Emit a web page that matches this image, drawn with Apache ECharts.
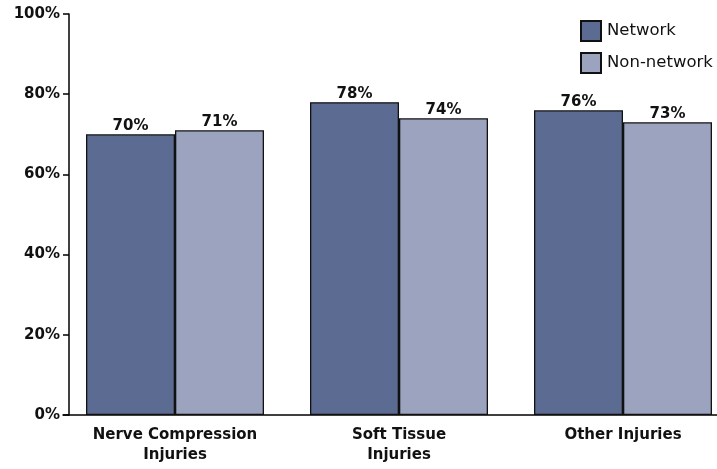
<!DOCTYPE html>
<html>
<head>
<meta charset="utf-8">
<script src="https://cdn.jsdelivr.net/npm/echarts@6/dist/echarts.min.js"></script>
<style>
  html, body { margin: 0; padding: 0; background: #fff; }
  #chart { width: 717px; height: 469px; }
</style>
</head>
<body>
<div id="chart"></div>
<script>
// categories (two-line labels)
var categories = ['Nerve Compression\nInjuries', 'Soft Tissue\nInjuries', 'Other Injuries'];
// percentages per group
var network = [70, 78, 76];
var nonNetwork = [71, 74, 73];
var yTicks = [0, 20, 40, 60, 80, 100];

var font = '"DejaVu Sans", Verdana, sans-serif';
var chart = echarts.init(document.getElementById('chart'));

var barLabel = {
  show: true, position: 'top', distance: 1, formatter: '{c}%',
  fontFamily: font, fontWeight: 'bold', fontSize: 15, color: '#111'
};

chart.setOption({
  animation: false,
  grid: {
    left: 63, right: -18, top: 14, bottom: 54,
    containLabel: false, outerBoundsMode: 'none'
  },
  legend: {
    orient: 'vertical',
    left: 580,
    top: 20,
    padding: 0,
    itemWidth: 20,
    itemHeight: 20,
    itemGap: 10,
    icon: 'rect',
    textStyle: { fontFamily: font, fontSize: 16.5, color: '#111', padding: [0, 0, 0, 1] },
    data: ['Network', 'Non-network']
  },
  xAxis: {
    type: 'category',
    data: categories,
    axisLine: { lineStyle: { color: '#000', width: 1.5 } },
    axisTick: { show: false },
    axisLabel: {
      fontFamily: font, fontWeight: 'bold', fontSize: 15, color: '#111',
      lineHeight: 20, margin: 10
    }
  },
  yAxis: {
    type: 'value',
    min: yTicks[0],
    max: yTicks[yTicks.length - 1],
    interval: 20,
    offset: -6,
    splitLine: { show: false },
    axisLine: { show: true, lineStyle: { color: '#000', width: 1.5 } },
    axisTick: { show: true, length: 6, lineStyle: { color: '#000', width: 1.5 } },
    axisLabel: {
      fontFamily: font, fontWeight: 'bold', fontSize: 15, color: '#111', margin: 9,
      formatter: '{value}%'
    }
  },
  series: [
    {
      name: 'Network',
      type: 'bar',
      data: network,
      barWidth: 89,
      barGap: '0%',
      itemStyle: { color: '#5c6b91', borderColor: '#111', borderWidth: 1.3 },
      label: barLabel
    },
    {
      name: 'Non-network',
      type: 'bar',
      data: nonNetwork,
      barWidth: 89,
      barGap: '0%',
      itemStyle: { color: '#9ba3be', borderColor: '#111', borderWidth: 1.3 },
      label: barLabel
    }
  ]
});
</script>
</body>
</html>
